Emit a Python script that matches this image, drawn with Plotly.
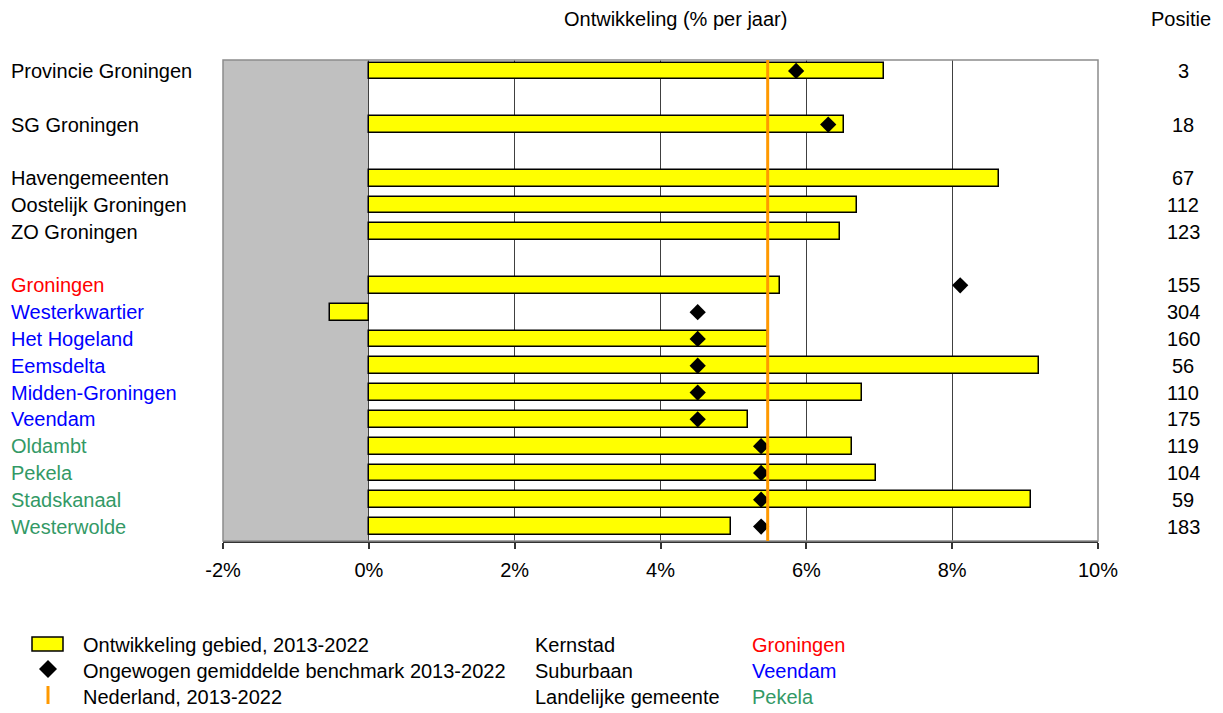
import plotly.graph_objects as go

# --- data -------------------------------------------------------------------
GEBIEDEN = [
    "Provincie Groningen", "SG Groningen",
    "Havengemeenten", "Oostelijk Groningen", "ZO Groningen",
    "Groningen", "Westerkwartier", "Het Hogeland", "Eemsdelta", "Midden-Groningen",
    "Veendam", "Oldambt", "Pekela", "Stadskanaal", "Westerwolde",
]
GROEP_GROOTTE = [1, 1, 3, 10]  # blokken met een lege regel ertussen
TYPE = ["", "", "", "", "",
        "Kernstad", "Suburbaan", "Suburbaan", "Suburbaan", "Suburbaan",
        "Suburbaan", "Landelijk", "Landelijk", "Landelijk", "Landelijk"]
ONTWIKKELING = [7.06, 6.51, 8.64, 6.69, 6.46,
                5.64, -0.53, 5.48, 9.19, 6.77, 5.20, 6.62, 6.96, 9.08, 4.96]
BENCHMARK = [5.86, 6.30, None, None, None,
             8.11, 4.51, 4.51, 4.51, 4.51, 4.51, 5.38, 5.38, 5.38, 5.38]
POSITIE = [3, 18, 67, 112, 123, 155, 304, 160, 56, 110, 175, 119, 104, 59, 183]
NEDERLAND = 5.47
X_TICKS = [-2, 0, 2, 4, 6, 8, 10]

LEGENDA_REEKS = ["Ontwikkeling gebied, 2013-2022",
                 "Ongewogen gemiddelde benchmark 2013-2022",
                 "Nederland, 2013-2022"]
LEGENDA_TYPE = ["Kernstad", "Suburbaan", "Landelijke gemeente"]
LEGENDA_VOORBEELD = ["Groningen", "Veendam", "Pekela"]

# --- styling ----------------------------------------------------------------
FONT = "Liberation Sans, Arial, sans-serif"
FS = 20
TYPE_KLEUR = {"": "black", "Kernstad": "#FF0000",
              "Suburbaan": "#0000FF", "Landelijk": "#339966"}
OFF = 8  # body-marge van de html-pagina
W, H = 1223 - OFF, 713 - OFF
M = dict(l=223 - OFF, r=125, t=60 - OFF, b=172)
PW, PH = W - M["l"] - M["r"], H - M["t"] - M["b"]


def px(x):  # schermpixel -> paper x
    return (x - OFF - M["l"]) / PW


def py(y):  # schermpixel -> paper y
    return (H - M["b"] - (y - OFF)) / PH


def tekst(x, y, s, kleur="black", anker="left", yref="paper"):
    return dict(x=x, y=y, xref="paper", yref=yref, text=s, showarrow=False,
                xanchor=anker, yanchor="middle",
                font=dict(size=FS, color=kleur))


# rijposities met lege regels tussen de groepen
rij = []
pos = 0
for n in GROEP_GROOTTE:
    rij.extend(range(pos, pos + n))
    pos += n + 1

fig = go.Figure()
fig.add_trace(go.Bar(
    x=ONTWIKKELING, y=rij, orientation="h", width=0.63,
    marker=dict(color="#FFFF00", line=dict(color="black", width=1.5)),
))
fig.add_trace(go.Scatter(
    x=BENCHMARK, y=rij, mode="markers",
    marker=dict(symbol="diamond", size=12.5, color="black"),
))

shapes = [
    # grijs gebied onder nul
    dict(type="rect", xref="x", yref="paper", x0=X_TICKS[0], x1=0, y0=0, y1=1,
         fillcolor="#C0C0C0", line_width=0, layer="below"),
    # kader
    dict(type="rect", xref="paper", yref="paper", x0=0, x1=1, y0=0, y1=1,
         line=dict(color="#8C8C8C", width=1.5), layer="above"),
    # Nederland
    dict(type="line", xref="x", yref="paper", x0=NEDERLAND, x1=NEDERLAND, y0=0, y1=1,
         line=dict(color="#FF9900", width=3), layer="above"),
]

annotations = []
for r, naam, t, p in zip(rij, GEBIEDEN, TYPE, POSITIE):
    annotations.append(tekst(px(9), r, naam, TYPE_KLEUR[t], yref="y"))
    annotations.append(tekst(px(1183), r, str(p), anker="center", yref="y"))

annotations.append(tekst(px(675), py(19), "Ontwikkeling (% per jaar)", anker="center"))
annotations.append(tekst(px(1181), py(19), "Positie", anker="center"))

# --- legenda ----------------------------------------------------------------
leg_y = [645, 671, 697]
shapes.append(dict(type="rect", xref="paper", yref="paper",
                   x0=px(32), x1=px(63), y0=py(651), y1=py(637),
                   fillcolor="#FFFF00", line=dict(color="black", width=1.5)))
shapes.append(dict(type="path", xref="paper", yref="paper",
                   path=f"M {px(39)} {py(669)} L {px(48)} {py(660)} "
                        f"L {px(57)} {py(669)} L {px(48)} {py(678)} Z",
                   fillcolor="black", line_width=0))
shapes.append(dict(type="line", xref="paper", yref="paper",
                   x0=px(48), x1=px(48), y0=py(686), y1=py(704),
                   line=dict(color="#FF9900", width=3)))
kleur_voorbeeld = [TYPE_KLEUR["Kernstad"], TYPE_KLEUR["Suburbaan"], TYPE_KLEUR["Landelijk"]]
for yy, a, b, c, k in zip(leg_y, LEGENDA_REEKS, LEGENDA_TYPE, LEGENDA_VOORBEELD, kleur_voorbeeld):
    annotations.append(tekst(px(81), py(yy), a))
    annotations.append(tekst(px(533), py(yy), b))
    annotations.append(tekst(px(750), py(yy), c, k))

fig.update_layout(
    width=W, height=H, margin=M,
    paper_bgcolor="white", plot_bgcolor="white",
    font=dict(family=FONT, size=FS, color="black"),
    showlegend=False, bargap=0,
    shapes=shapes, annotations=annotations,
    xaxis=dict(range=[X_TICKS[0], X_TICKS[-1]], tickvals=X_TICKS,
               ticktext=[f"{v}%" for v in X_TICKS],
               showgrid=True, gridcolor="#404040", gridwidth=1, zeroline=False,
               showline=True, linecolor="#333333", linewidth=1.5,
               ticks="outside", ticklen=6, tickcolor="#333333", tickwidth=1.5,
               ticklabelstandoff=4, tickfont=dict(size=FS)),
    yaxis=dict(range=[17.54, -0.41], showticklabels=False, showgrid=False,
               zeroline=False, ticks=""),
)

fig.write_html("out.html")
